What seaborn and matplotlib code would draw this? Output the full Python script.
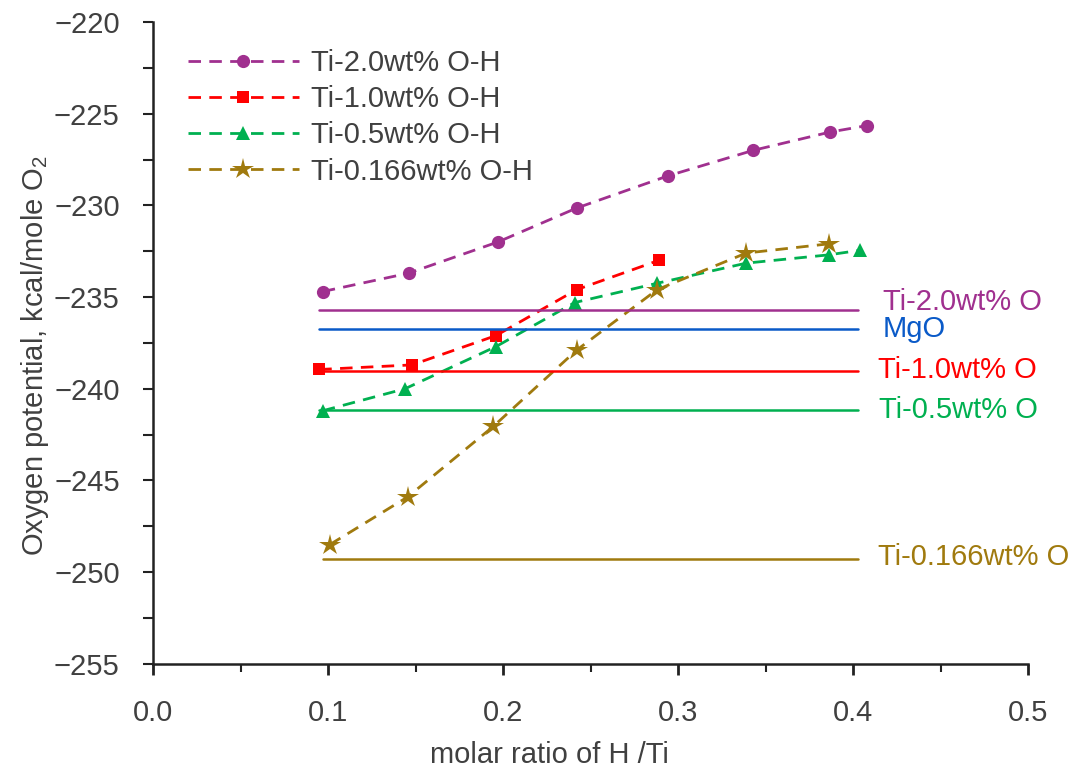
import matplotlib
matplotlib.use("Agg")
import matplotlib.pyplot as plt
import seaborn as sns
import numpy as np
import pandas as pd

# ---- data ----
x_20 = [0.097, 0.146, 0.197, 0.242, 0.294, 0.343, 0.387, 0.408]
y_20 = [-234.7, -233.7, -232.0, -230.15, -228.4, -227.0, -226.0, -225.65]

x_10 = [0.095, 0.148, 0.196, 0.242, 0.289]
y_10 = [-238.95, -238.7, -237.1, -234.6, -233.0]

x_05 = [0.097, 0.144, 0.196, 0.241, 0.288, 0.339, 0.386, 0.404]
y_05 = [-241.2, -240.0, -237.7, -235.3, -234.25, -233.15, -232.7, -232.45]

x_0166 = [0.101, 0.1455, 0.1945, 0.242, 0.288, 0.339, 0.386]
y_0166 = [-248.5, -245.9, -242.05, -237.9, -234.6, -232.6, -232.1]

series_labels = ["Ti-2.0wt% O-H", "Ti-1.0wt% O-H", "Ti-0.5wt% O-H", "Ti-0.166wt% O-H"]

ref_labels = ["Ti-2.0wt% O", "MgO", "Ti-1.0wt% O", "Ti-0.5wt% O", "Ti-0.166wt% O"]
ref_values = [-235.7, -236.75, -239.05, -241.15, -249.3]
ref_xstart = [0.095, 0.095, 0.095, 0.095, 0.097]
ref_xend = [0.403, 0.403, 0.403, 0.403, 0.403]

xticks = [0.0, 0.1, 0.2, 0.3, 0.4, 0.5]
yticks = [-255, -250, -245, -240, -235, -230, -225, -220]

# ---- style ----
sns.set_theme(style="ticks")
plt.rcParams['font.family'] = ['Liberation Sans', 'DejaVu Sans']
plt.rcParams['mathtext.fontset'] = 'custom'
plt.rcParams['mathtext.rm'] = 'Liberation Sans'

purple = '#A0308F'
red = '#FF0000'
green = '#00B050'
gold = '#A07A0E'
blue = '#0A5AC8'
txt = '#404040'

fig = plt.figure(figsize=(10.89, 7.71), dpi=100)
ax = fig.add_axes([0.1405, 0.139, 0.8035, 0.8325])

FS = 21

series = [
    (x_20, y_20, purple, 'o', 9.5),
    (x_10, y_10, red, 's', 8.5),
    (x_05, y_05, green, '^', 10),
    (x_0166, y_0166, gold, '*', 16),
]
for (xs, ys, c, m, ms), lab in zip(series, series_labels):
    sns.lineplot(x=xs, y=ys, ax=ax, color=c, marker=m, markersize=ms,
                 markeredgewidth=0, linewidth=2.0, dashes=False, label=lab,
                 sort=False)
    ax.lines[-1].set_linestyle((0, (4.5, 3)))

ref_colors = [purple, blue, red, green, gold]
# label placement (layout only)
label_dx = [0.417, 0.417, 0.414, 0.415, 0.414]
label_dy = [0.45, 0.0, 0.05, 0.0, 0.1]
for lab, v, xs, xe, c, tx, dy in zip(ref_labels, ref_values, ref_xstart, ref_xend,
                                     ref_colors, label_dx, label_dy):
    sns.lineplot(x=[xs, xe], y=[v, v], ax=ax, color=c, linewidth=1.8, legend=False)
    ax.text(tx, v + dy, lab, color=c, fontsize=FS, va='center', ha='left')

ax.set_xlim(0, 0.5)
ax.set_ylim(-255, -220)
ax.set_xticks(xticks)
ax.set_xticklabels([f"{t:.1f}" for t in xticks], fontsize=FS, color=txt)
ax.set_yticks(yticks)
ax.set_yticklabels([f"\u2212{abs(t)}" for t in yticks], fontsize=FS, color=txt)
ax.set_xticks(np.arange(0.05, 0.5, 0.1), minor=True)
ax.set_yticks(np.arange(-252.5, -220, 5), minor=True)
ax.tick_params(axis='y', which='major', length=7, width=1.5, pad=17, color='#222222')
ax.tick_params(axis='y', which='minor', length=7, width=1.5, color='#222222')
ax.tick_params(axis='x', which='major', length=8, width=2, pad=17, color='#222222')
ax.tick_params(axis='x', which='minor', length=6, width=1.5, color='#222222')
sns.despine(ax=ax)
for s in ['left', 'bottom']:
    ax.spines[s].set_linewidth(1.8)
    ax.spines[s].set_color('#222222')

ax.set_xlabel("molar ratio of H /Ti", fontsize=FS, color=txt)
ax.xaxis.set_label_coords(0.453, -0.12)
ax.set_ylabel("Oxygen potential, kcal/mole O$_2$", fontsize=FS, color=txt)
ax.yaxis.set_label_coords(-0.117, 0.48)

leg = ax.legend(loc='upper left', bbox_to_anchor=(0.02, 0.985), frameon=False,
                fontsize=FS, handlelength=3.8, handletextpad=0.4,
                labelspacing=0.28, borderaxespad=0.2)
for t in leg.get_texts():
    t.set_color(txt)

fig.savefig("out.png", dpi=100)
